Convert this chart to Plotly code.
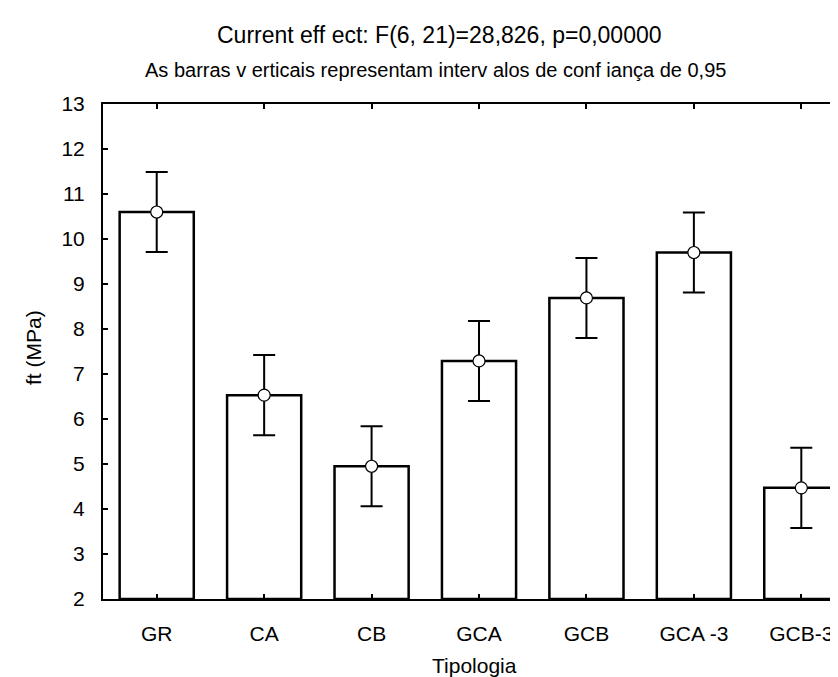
import plotly.graph_objects as go

categories = ["GR", "CA", "CB", "GCA", "GCB", "GCA -3", "GCB-3"]
means = [10.60, 6.53, 4.95, 7.29, 8.69, 9.70, 4.47]
ci_half = [0.89, 0.89, 0.89, 0.89, 0.89, 0.89, 0.89]
y_ticks = list(range(2, 14))

title_text = "Current eff ect: F(6, 21)=28,826, p=0,00000"
subtitle_text = "As barras v erticais representam interv alos de conf iança de 0,95"
x_title = "Tipologia"
y_title = "ft (MPa)"

FONT = "Arial, Liberation Sans, sans-serif"
xs = list(range(len(categories)))

# plot area in pixels: left 95, right 838, top 96, bottom 591
def px_x(p):
    return (p - 95) / 743.0

def px_y(p):
    return (591 - p) / 495.0

fig = go.Figure()
fig.add_trace(go.Bar(
    x=xs, y=[m - 2 for m in means], base=2,
    width=0.69,
    marker=dict(color="white", line=dict(color="black", width=2.5)),
    showlegend=False, hoverinfo="skip",
))
fig.add_trace(go.Scatter(
    x=xs, y=means, mode="markers",
    marker=dict(symbol="circle", size=12, color="white",
                line=dict(color="black", width=1.2)),
    error_y=dict(type="data", array=ci_half, visible=True,
                 color="black", thickness=2, width=11),
    showlegend=False,
))

fig.update_layout(
    width=838, height=677,
    margin=dict(l=95, r=0, t=96, b=86),
    paper_bgcolor="white", plot_bgcolor="white",
    font=dict(family=FONT, color="black", size=21),
    xaxis=dict(
        range=[-0.5, 6.416],
        tickmode="array", tickvals=xs, ticktext=categories,
        ticks="inside", ticklen=5, tickwidth=2, tickcolor="black",
        showline=True, linecolor="black", linewidth=2, mirror="ticks",
        showgrid=False, zeroline=False,
        tickfont=dict(size=21, family=FONT),
        ticklabelstandoff=15,
    ),
    yaxis=dict(
        range=[2, 13],
        tickmode="array", tickvals=y_ticks,
        ticks="inside", ticklen=5, tickwidth=2, tickcolor="black",
        showline=True, linecolor="black", linewidth=2, mirror=False,
        showgrid=False, zeroline=False,
        tickfont=dict(size=21, family=FONT),
        ticklabelstandoff=12,
    ),
    annotations=[
        dict(text=title_text, xref="paper", yref="paper", x=px_x(431), y=px_y(27),
             showarrow=False, font=dict(size=23, family=FONT),
             xanchor="center", yanchor="middle"),
        dict(text=subtitle_text, xref="paper", yref="paper", x=px_x(427), y=px_y(62),
             showarrow=False, font=dict(size=20, family=FONT),
             xanchor="center", yanchor="middle"),
        dict(text=x_title, xref="paper", yref="paper", x=px_x(466), y=px_y(657),
             showarrow=False, font=dict(size=21, family=FONT),
             xanchor="center", yanchor="middle"),
        dict(text=y_title, xref="paper", yref="paper", x=px_x(25), y=px_y(340),
             showarrow=False, font=dict(size=21, family=FONT), textangle=-90,
             xanchor="center", yanchor="middle"),
    ],
)

fig.write_html("out.html")
